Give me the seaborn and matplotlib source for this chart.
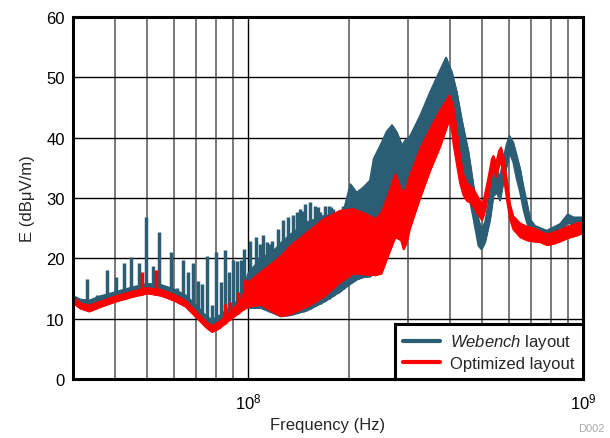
import matplotlib
matplotlib.use("Agg")
import matplotlib.pyplot as plt
import numpy as np
import seaborn as sns
from matplotlib.lines import Line2D
from matplotlib.ticker import FixedLocator, FixedFormatter, NullFormatter

# Radiated emission scan.
# Frequencies in MHz, field strength in dBuV/m (lower / upper edge of the noisy trace).
web_freq = [30, 31.5, 33.5, 36, 40, 45, 50, 55, 60, 65, 70, 75, 78, 82, 88, 95, 100, 109, 118, 125,
            134, 150, 168, 188, 193, 202, 211, 221, 231, 237, 248, 259, 269, 278, 288, 294, 304, 326,
            349, 370, 390, 406, 420, 434, 455, 471, 487, 497, 510, 528, 540, 553, 565, 578, 592, 603,
            619, 634, 649, 663, 679, 695, 719, 779, 854, 900, 938, 1000]
web_lower = [12.8, 12.3, 12.2, 12.9, 13.8, 14.6, 15.2, 14.9, 14.2, 13.2, 11.4, 9.6, 9.0, 9.6, 10.8,
             11.8, 11.8, 11.8, 11.0, 10.4, 10.6, 11.4, 12.8, 14.5, 15.0, 15.8, 16.5, 16.9, 17.0, 17.5,
             18.0, 20.5, 23.0, 24.5, 23.5, 23.0, 25.5, 30.0, 35.0, 39.0, 43.0, 44.0, 40.0, 36.5, 30.7,
             26.5, 22.1, 21.5, 22.7, 26.5, 30.4, 30.9, 29.6, 32.6, 35.4, 37.6, 35.9, 33.1, 30.9, 28.2,
             26.0, 24.6, 24.0, 23.3, 24.2, 26.0, 25.4, 25.4]
web_upper = [13.8, 13.2, 13.0, 13.7, 14.4, 15.2, 15.8, 15.6, 14.9, 13.9, 12.2, 10.4, 9.8, 10.5, 11.8,
             13.5, 17.5, 20.0, 21.0, 22.5, 24.0, 26.0, 27.0, 27.5, 28.0, 32.3, 30.9, 31.8, 32.9, 36.5,
             38.7, 41.0, 42.1, 40.9, 38.7, 39.5, 40.2, 43.6, 47.5, 50.6, 53.3, 50.8, 47.5, 43.1, 37.6,
             32.0, 26.5, 24.9, 26.0, 30.9, 34.3, 34.8, 33.4, 36.5, 39.0, 40.3, 39.2, 37.0, 34.8, 32.0,
             29.3, 26.5, 25.4, 24.6, 25.7, 27.3, 26.8, 26.8]
web_spike_freq = [33.1, 35.5, 37.9, 40.3, 42.7, 44.8, 47.1, 49.5, 51.9, 54.3, 56.8, 59.0, 61.4, 63.7,
                  66.1, 68.4, 70.8, 73.0, 75.6, 78.1, 80.4, 82.9, 85.2, 87.9, 90.4, 92.9, 95.1, 97.3,
                  101.4, 105.7, 108.6, 111.1, 113.7, 116.0, 117.7, 122.5, 127.4, 131.9, 136.5, 139.8,
                  143.0, 145.5, 148.0, 153.1, 158.5, 162.0, 164.0, 167.5, 169.8, 174.0, 176.5, 179.6,
                  185.9, 188.5, 192.5]
web_spike_top = [16.6, 14.0, 18.1, 16.9, 19.2, 20.3, 19.3, 26.8, 18.7, 24.3, 14.9, 21.0, 15.1, 19.8,
                 17.7, 19.2, 16.3, 15.7, 20.4, 12.2, 21.1, 16.0, 21.3, 17.7, 19.8, 19.6, 19.8, 21.5,
                 22.9, 23.5, 22.4, 23.8, 22.7, 22.4, 22.9, 24.9, 26.4, 26.9, 27.1, 27.6,
                 28.2, 27.9, 29.0, 29.3, 28.7, 28.5, 27.6, 27.1, 28.7, 28.7, 28.5, 28.2,
                 27.6, 27.9, 28.7]

opt_freq = [30, 31.5, 33.5, 36, 40, 45, 50, 55, 60, 65, 70, 75, 78, 82, 88, 95, 100, 109, 118, 125,
            134, 150, 168, 188, 206, 226, 240, 250, 262, 275, 286, 291, 297, 304, 326, 349, 374, 399,
            406, 410, 420, 429, 439, 450, 460, 471, 482, 493, 499, 504, 510, 522, 534, 540, 550, 561,
            569, 578, 592, 605, 619, 649, 679, 711, 744, 779, 815, 854, 894, 958, 1000]
opt_lower = [12.6, 11.7, 11.2, 11.9, 12.8, 13.6, 14.2, 13.8, 13.0, 12.0, 10.2, 8.5, 7.8, 8.4, 9.8,
             11.2, 12.0, 12.3, 11.2, 10.4, 10.8, 12.0, 13.6, 16.0, 17.5, 17.3, 17.2, 17.5, 20.5, 23.5,
             23.0, 21.5, 22.5, 24.9, 30.0, 34.5, 38.5, 43.0, 41.0, 39.0, 35.5, 32.5, 30.5, 29.5, 29.3,
             28.5, 27.5, 26.8, 26.3, 27.0, 28.0, 30.8, 34.0, 34.8, 33.5, 35.3, 36.0, 34.0, 29.8, 26.5,
             24.8, 23.5, 23.0, 22.8, 22.7, 22.2, 22.4, 22.8, 23.3, 23.8, 24.2]
opt_upper = [13.6, 12.6, 12.2, 12.8, 13.7, 14.5, 15.1, 14.8, 14.0, 13.0, 11.2, 9.5, 8.8, 9.5, 11.0,
             13.0, 16.0, 17.7, 19.2, 20.3, 22.1, 24.3, 26.5, 27.9, 28.2, 27.3, 26.5, 27.6, 30.5, 34.0,
             31.5, 30.9, 31.8, 33.7, 38.1, 41.4, 44.5, 47.0, 46.0, 45.0, 41.0, 37.0, 34.0, 32.5, 32.0,
             31.5, 30.5, 29.5, 29.0, 29.5, 30.8, 33.5, 36.5, 37.0, 35.8, 37.8, 38.4, 37.0, 33.0, 29.0,
             27.0, 25.8, 25.3, 25.0, 24.5, 24.0, 24.3, 24.7, 25.2, 25.8, 26.0]
opt_spike_freq = [48.2, 53.1, 85.2, 88.0, 93.0, 98.0]
opt_spike_top = [17.7, 18.0, 12.4, 12.8, 14.4, 16.6]

WEB_COLOR = "#2b5d75"
OPT_COLOR = "#ff0000"

sns.set_style("white")
plt.rcParams["font.family"] = ["Liberation Sans", "DejaVu Sans"]
plt.rcParams["mathtext.fontset"] = "custom"
plt.rcParams["mathtext.rm"] = "Liberation Sans"
plt.rcParams["mathtext.it"] = "Liberation Sans:italic"
plt.rcParams["mathtext.default"] = "regular"

fig = plt.figure(figsize=(6.1, 4.39), dpi=100)
ax = fig.add_axes([0.1197, 0.1344, 0.836, 0.8246])
ax.set_xscale("log")


def draw_trace(freq, lower, upper, spike_f, spike_top, color, z):
    f = np.asarray(freq) * 1e6
    ax.fill_between(f, lower, upper, color=color, edgecolor=color, lw=0.8, zorder=z)
    sns.lineplot(x=f, y=upper, ax=ax, color=color, lw=1.2, sort=False, estimator=None, zorder=z)
    sns.lineplot(x=f, y=lower, ax=ax, color=color, lw=1.2, sort=False, estimator=None, zorder=z)
    sf = np.asarray(spike_f) * 1e6
    base = np.interp(np.log10(sf), np.log10(f), lower)
    ax.vlines(sf, base, spike_top, color=color, lw=2.5, zorder=z)


draw_trace(web_freq, web_lower, web_upper, web_spike_freq, web_spike_top, WEB_COLOR, 3)
draw_trace(opt_freq, opt_lower, opt_upper, opt_spike_freq, opt_spike_top, OPT_COLOR, 4)

ax.set_xlim(3e7, 1e9)
ax.set_ylim(0, 60)
ax.set_yticks(range(0, 61, 10))
ax.xaxis.set_major_locator(FixedLocator([1e8, 1e9]))
ax.xaxis.set_major_formatter(FixedFormatter([r"$10^{8}$", r"$10^{9}$"]))
minor = [k * 1e7 for k in range(4, 10)] + [k * 1e8 for k in range(2, 10)]
ax.xaxis.set_minor_locator(FixedLocator(minor))
ax.xaxis.set_minor_formatter(NullFormatter())

ax.set_axisbelow(True)
ax.grid(which="major", color="black", lw=1.0)
ax.grid(which="minor", axis="x", color="#555555", lw=1.1)
for s in ax.spines.values():
    s.set_color("black")
    s.set_linewidth(2.2)
    s.set_zorder(6)

ax.tick_params(which="both", length=0, labelsize=12, colors="black")
ax.tick_params(axis="x", pad=9)
ax.tick_params(axis="y", pad=6)
ax.set_xlabel("Frequency (Hz)", fontsize=12, labelpad=4)
ax.set_ylabel("E (dB\u03bcV/m)", fontsize=12, labelpad=8)

handles = [Line2D([], [], color=WEB_COLOR, lw=3),
           Line2D([], [], color=OPT_COLOR, lw=3)]
leg = ax.legend(handles, [r"$\it{Webench}$ layout", "Optimized layout"],
                loc="lower right", bbox_to_anchor=(1, 0), borderaxespad=0,
                fontsize=12, fancybox=False, framealpha=1, edgecolor="black",
                handlelength=2.2, handletextpad=0.6, labelspacing=0.25,
                borderpad=0.5)
leg.get_frame().set_linewidth(2.2)
leg.set_zorder(7)

fig.text(0.948, 0.012, "D002", fontsize=8, color="#aaaaaa", ha="left", va="bottom")

fig.savefig("out.png", dpi=100)
